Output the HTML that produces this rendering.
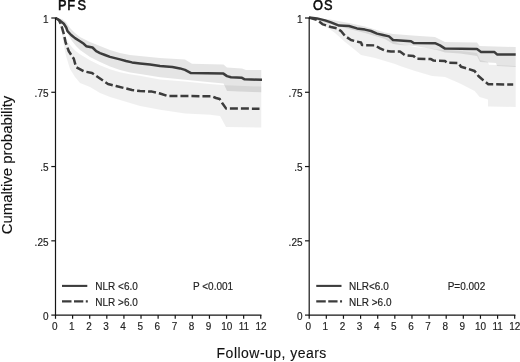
<!DOCTYPE html>
<html><head><meta charset="utf-8"><title>Kaplan-Meier</title>
<style>
html,body{margin:0;padding:0;background:#fff;}
body{width:520px;height:362px;overflow:hidden;font-family:"Liberation Sans",sans-serif;}
svg{display:block;filter:blur(0.35px);}
text{font-family:"Liberation Sans",sans-serif;}
.tk text{font-size:10px;fill:#222;stroke:#222;stroke-width:0.15px;}
.ax line{stroke:#151515;stroke-width:1.2;}
.band{fill:#000;stroke:none;}
.bs{fill-opacity:0.10;}
.bd{fill-opacity:0.062;}
.cv{fill:none;stroke:#3c3c3c;stroke-width:2.5;stroke-linejoin:round;}
.dash{stroke-dasharray:8 3;}
.big{font-size:14px;fill:#111;stroke:#111;stroke-width:0.12px;letter-spacing:0.48px;}
.ttl{font-size:12.8px;fill:#0c0c0c;stroke:#0c0c0c;stroke-width:0.5px;}
.lg{font-size:10px;fill:#222;stroke:#222;stroke-width:0.15px;}
</style></head><body>
<svg width="520" height="362" viewBox="0 0 520 362">
<rect width="520" height="362" fill="#fff"/>
<!-- bands -->
<path class="band bs" d="M55.5,18.0 L62.0,19.0 L66.0,22.0 L70.0,28.0 L75.0,33.0 L80.0,37.0 L90.0,42.0 L100.0,46.0 L110.0,50.0 L120.0,53.0 L130.0,55.0 L140.0,56.0 L160.0,58.0 L185.0,59.4 L192.0,63.7 L223.5,64.4 L227.0,67.4 L242.0,68.6 L246.0,70.0 L261.3,70.0 L261.3,92.3 L227.0,91.0 L223.5,83.5 L210.0,82.3 L185.0,79.8 L160.0,77.3 L140.0,74.0 L130.0,72.5 L120.0,70.0 L110.0,66.5 L100.0,62.0 L90.0,57.0 L80.0,50.0 L76.0,46.0 L72.0,41.0 L69.0,36.0 L66.0,30.0 L62.0,23.0 L55.5,18.0Z"/>
<path class="band bd" d="M55.5,18.0 L60.0,19.2 L63.0,27.2 L65.0,35.2 L68.0,42.2 L72.0,47.2 L76.0,51.2 L80.0,54.2 L90.0,60.2 L100.0,65.2 L110.0,69.2 L120.0,72.2 L130.0,74.2 L140.0,75.8 L160.0,79.5 L185.0,81.5 L210.0,84.0 L226.0,85.2 L261.3,86.5 L261.3,127.6 L226.0,127.0 L220.0,116.0 L210.0,114.7 L185.0,113.4 L160.0,109.7 L140.0,106.0 L130.0,103.0 L120.0,100.0 L110.0,97.0 L100.0,93.0 L90.0,87.0 L80.0,83.0 L75.0,77.0 L70.0,69.0 L66.0,56.0 L64.0,46.0 L62.0,34.0 L60.0,24.0 L55.5,18.0Z"/>
<path class="band bs" d="M309.0,17.6 L330.0,19.5 L349.0,23.0 L365.0,26.4 L385.0,32.4 L393.0,34.0 L400.0,34.5 L412.5,35.4 L435.0,37.0 L445.0,42.0 L477.0,42.4 L479.6,46.0 L515.7,47.0 L515.7,67.0 L497.0,66.0 L496.0,63.0 L480.0,62.0 L477.0,56.0 L460.0,53.6 L445.0,52.4 L437.0,50.0 L415.0,46.0 L400.0,45.0 L393.0,44.0 L385.0,39.0 L365.0,33.0 L349.0,29.0 L330.0,24.0 L309.0,17.6Z"/>
<path class="band bd" d="M309.0,17.6 L320.0,18.5 L335.0,23.0 L349.0,27.0 L365.0,31.0 L385.0,37.0 L393.0,41.0 L400.0,44.0 L415.0,47.0 L435.0,49.0 L445.0,50.0 L461.0,51.0 L477.0,53.0 L480.0,60.0 L488.0,62.0 L489.0,64.8 L496.0,65.0 L515.7,66.0 L515.7,107.0 L488.0,106.6 L488.0,99.6 L479.6,97.0 L474.6,91.0 L460.0,83.5 L445.0,77.0 L432.0,76.0 L415.0,71.0 L400.0,66.0 L395.0,64.0 L385.0,61.0 L375.0,58.0 L361.0,55.0 L355.0,50.0 L345.0,42.0 L335.0,33.0 L325.0,26.0 L318.0,21.0 L309.0,17.6Z"/>
<!-- curves -->
<path class="cv" d="M55.5,18.0 L60.0,20.6 L63.8,23.8 L66.2,27.5 L67.5,31.2 L71.2,35.0 L75.0,38.1 L80.0,41.2 L83.8,43.8 L86.2,46.2 L92.5,47.5 L96.2,51.2 L100.0,53.1 L105.0,55.0 L110.0,56.9 L115.0,58.1 L120.0,59.4 L126.0,61.0 L132.0,62.4 L140.0,63.4 L150.0,64.6 L160.0,66.1 L172.4,66.9 L180.0,68.4 L185.0,69.9 L191.0,73.1 L223.4,73.6 L227.0,76.1 L231.0,77.3 L242.0,77.8 L244.6,79.3 L262.0,79.8"/>
<path class="cv dash" d="M55.5,18.0 L59.0,20.0 L61.2,25.0 L63.8,33.8 L65.6,42.5 L68.8,51.2 L73.8,58.8 L76.0,67.0 L84.0,71.4 L92.0,73.0 L100.0,78.6 L108.0,84.0 L116.0,86.0 L124.0,88.0 L132.0,90.0 L140.0,91.0 L152.0,91.6 L160.0,93.5 L167.5,96.0 L212.0,96.2 L216.0,98.0 L219.7,99.0 L222.0,102.7 L226.0,108.4 L259.5,108.7"/>
<path class="cv" d="M309.0,17.6 L317.0,18.4 L325.0,20.4 L331.0,22.4 L339.0,25.6 L349.0,26.0 L357.0,28.4 L365.0,29.6 L371.0,31.0 L377.0,33.6 L383.0,35.0 L389.0,36.4 L393.0,40.0 L400.0,40.4 L411.0,41.2 L413.7,43.0 L435.0,43.2 L440.0,45.4 L445.0,48.6 L477.0,49.1 L481.0,51.9 L494.5,52.1 L497.0,54.4 L515.7,54.6"/>
<path class="cv dash" d="M309.0,17.6 L317.0,20.0 L323.0,24.4 L331.0,27.0 L337.0,28.4 L341.0,31.0 L345.0,36.0 L351.0,40.0 L357.0,41.6 L361.0,42.4 L362.0,45.0 L375.0,45.4 L380.0,48.4 L385.0,50.6 L391.0,51.6 L400.0,51.6 L405.0,55.3 L413.7,56.1 L416.0,58.6 L431.0,59.1 L433.6,60.6 L445.0,61.0 L447.0,62.8 L458.5,63.0 L461.0,66.8 L467.0,68.5 L474.6,71.0 L478.4,76.0 L483.3,80.2 L488.3,84.2 L513.2,84.5"/>
<!-- axes -->
<g class="ax"><line x1="55.5" y1="17.4" x2="55.5" y2="315.70000000000005" /><line x1="55.5" y1="315.1" x2="261.45" y2="315.1" /><line x1="51.3" y1="18.00" x2="55.5" y2="18.00" /><line x1="51.3" y1="92.28" x2="55.5" y2="92.28" /><line x1="51.3" y1="166.55" x2="55.5" y2="166.55" /><line x1="51.3" y1="240.83" x2="55.5" y2="240.83" /><line x1="51.3" y1="315.10" x2="55.5" y2="315.10" /><line x1="55.50" y1="315.1" x2="55.50" y2="318.8" /><line x1="72.60" y1="315.1" x2="72.60" y2="318.8" /><line x1="89.71" y1="315.1" x2="89.71" y2="318.8" /><line x1="106.81" y1="315.1" x2="106.81" y2="318.8" /><line x1="123.92" y1="315.1" x2="123.92" y2="318.8" /><line x1="141.02" y1="315.1" x2="141.02" y2="318.8" /><line x1="158.12" y1="315.1" x2="158.12" y2="318.8" /><line x1="175.23" y1="315.1" x2="175.23" y2="318.8" /><line x1="192.33" y1="315.1" x2="192.33" y2="318.8" /><line x1="209.44" y1="315.1" x2="209.44" y2="318.8" /><line x1="226.54" y1="315.1" x2="226.54" y2="318.8" /><line x1="243.65" y1="315.1" x2="243.65" y2="318.8" /><line x1="260.75" y1="315.1" x2="260.75" y2="318.8" /><line x1="309.2" y1="17.4" x2="309.2" y2="315.70000000000005" /><line x1="309.2" y1="315.1" x2="515.4000000000001" y2="315.1" /><line x1="305.0" y1="18.00" x2="309.2" y2="18.00" /><line x1="305.0" y1="92.28" x2="309.2" y2="92.28" /><line x1="305.0" y1="166.55" x2="309.2" y2="166.55" /><line x1="305.0" y1="240.83" x2="309.2" y2="240.83" /><line x1="305.0" y1="315.10" x2="309.2" y2="315.10" /><line x1="309.20" y1="315.1" x2="309.20" y2="318.8" /><line x1="326.32" y1="315.1" x2="326.32" y2="318.8" /><line x1="343.45" y1="315.1" x2="343.45" y2="318.8" /><line x1="360.57" y1="315.1" x2="360.57" y2="318.8" /><line x1="377.70" y1="315.1" x2="377.70" y2="318.8" /><line x1="394.82" y1="315.1" x2="394.82" y2="318.8" /><line x1="411.95" y1="315.1" x2="411.95" y2="318.8" /><line x1="429.08" y1="315.1" x2="429.08" y2="318.8" /><line x1="446.20" y1="315.1" x2="446.20" y2="318.8" /><line x1="463.33" y1="315.1" x2="463.33" y2="318.8" /><line x1="480.45" y1="315.1" x2="480.45" y2="318.8" /><line x1="497.58" y1="315.1" x2="497.58" y2="318.8" /><line x1="514.70" y1="315.1" x2="514.70" y2="318.8" /></g>
<g class="tk"><text text-anchor="end" transform="translate(48.50,22.70) scale(1,1.12)">1</text><text text-anchor="end" transform="translate(48.50,96.98) scale(1,1.12)">.75</text><text text-anchor="end" transform="translate(48.50,171.25) scale(1,1.12)">.5</text><text text-anchor="end" transform="translate(48.50,245.53) scale(1,1.12)">.25</text><text text-anchor="end" transform="translate(48.50,319.80) scale(1,1.12)">0</text><text text-anchor="middle" transform="translate(54.70,330.10) scale(1,1.12)">0</text><text text-anchor="middle" transform="translate(71.80,330.10) scale(1,1.12)">1</text><text text-anchor="middle" transform="translate(88.91,330.10) scale(1,1.12)">2</text><text text-anchor="middle" transform="translate(106.01,330.10) scale(1,1.12)">3</text><text text-anchor="middle" transform="translate(123.12,330.10) scale(1,1.12)">4</text><text text-anchor="middle" transform="translate(140.22,330.10) scale(1,1.12)">5</text><text text-anchor="middle" transform="translate(157.32,330.10) scale(1,1.12)">6</text><text text-anchor="middle" transform="translate(174.43,330.10) scale(1,1.12)">7</text><text text-anchor="middle" transform="translate(191.53,330.10) scale(1,1.12)">8</text><text text-anchor="middle" transform="translate(208.64,330.10) scale(1,1.12)">9</text><text text-anchor="middle" transform="translate(226.84,330.10) scale(1,1.12)">10</text><text text-anchor="middle" transform="translate(243.95,330.10) scale(1,1.12)">11</text><text text-anchor="middle" transform="translate(261.05,330.10) scale(1,1.12)">12</text><text text-anchor="end" transform="translate(302.50,22.70) scale(1,1.12)">1</text><text text-anchor="end" transform="translate(302.50,96.98) scale(1,1.12)">.75</text><text text-anchor="end" transform="translate(302.50,171.25) scale(1,1.12)">.5</text><text text-anchor="end" transform="translate(302.50,245.53) scale(1,1.12)">.25</text><text text-anchor="end" transform="translate(302.50,319.80) scale(1,1.12)">0</text><text text-anchor="middle" transform="translate(308.20,330.10) scale(1,1.12)">0</text><text text-anchor="middle" transform="translate(325.32,330.10) scale(1,1.12)">1</text><text text-anchor="middle" transform="translate(342.45,330.10) scale(1,1.12)">2</text><text text-anchor="middle" transform="translate(359.57,330.10) scale(1,1.12)">3</text><text text-anchor="middle" transform="translate(376.70,330.10) scale(1,1.12)">4</text><text text-anchor="middle" transform="translate(393.82,330.10) scale(1,1.12)">5</text><text text-anchor="middle" transform="translate(410.95,330.10) scale(1,1.12)">6</text><text text-anchor="middle" transform="translate(428.07,330.10) scale(1,1.12)">7</text><text text-anchor="middle" transform="translate(445.20,330.10) scale(1,1.12)">8</text><text text-anchor="middle" transform="translate(462.32,330.10) scale(1,1.12)">9</text><text text-anchor="middle" transform="translate(480.55,330.10) scale(1,1.12)">10</text><text text-anchor="middle" transform="translate(497.68,330.10) scale(1,1.12)">11</text><text text-anchor="middle" transform="translate(514.80,330.10) scale(1,1.12)">12</text></g>
<!-- titles -->
<text class="ttl" transform="translate(58.10,9.60) scale(1,1.08)">P</text><text class="ttl" transform="translate(67.30,9.60) scale(1,1.08)">F</text><text class="ttl" transform="translate(77.40,9.60) scale(1,1.08)">S</text>
<text class="ttl" transform="translate(313.00,9.50) scale(1,1.08)">O</text><text class="ttl" transform="translate(324.00,9.50) scale(1,1.08)">S</text>
<!-- legends -->
<g class="cv" style="stroke-width:2.1">
<line x1="62" y1="285.9" x2="87.3" y2="285.9"/>
<path d="M62,301.4 h9.5 m2.5,0 h9.3 m2.5,0 h2"/>
<line x1="316.25" y1="285.9" x2="341.5" y2="285.9"/>
<path d="M316.25,301.4 h9.5 m2.5,0 h9.3 m2.5,0 h2"/>
</g>
<text class="lg" transform="translate(95.30,290.40) scale(1,1.12)">NLR &lt;6.0</text>
<text class="lg" transform="translate(95.30,306.20) scale(1,1.12)">NLR &gt;6.0</text>
<text class="lg" transform="translate(193.00,290.00) scale(1,1.12)">P &lt;0.001</text>
<text class="lg" transform="translate(349.00,290.40) scale(1,1.12)">NLR&lt;6.0</text>
<text class="lg" transform="translate(349.00,306.20) scale(1,1.12)">NLR &gt;6.0</text>
<text class="lg" transform="translate(447.70,290.00) scale(1,1.12)">P=0.002</text>
<!-- axis labels -->
<text class="big" transform="translate(216.60,357.60) scale(1,1.06)">Follow-up, years</text>
<text class="big" style="letter-spacing:0" transform="translate(11.7,234.3) rotate(-90) scale(1.068,1)">Cumaltive probability</text>
</svg>
</body></html>
